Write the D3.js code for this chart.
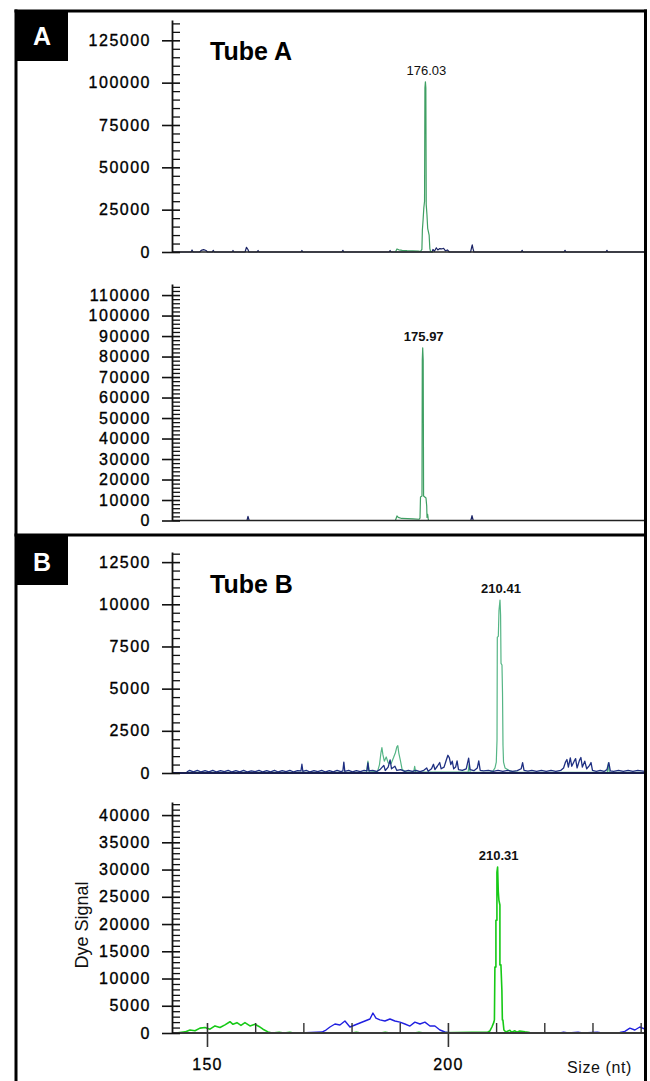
<!DOCTYPE html>
<html>
<head>
<meta charset="utf-8">
<script src="https://cdnjs.cloudflare.com/ajax/libs/d3/7.8.5/d3.min.js"></script>
<style>
  body { margin: 0; background: #fff; }
  text { font-family: "Liberation Sans", Arial, sans-serif; }
</style>
</head>
<body>
<div id="plot"></div>
<script>
const width = 650, height = 1081;
const axisX = 172;

// y tick labels of the four traces
const ticksA1 = [0, 25000, 50000, 75000, 100000, 125000];
const ticksA2 = [0, 10000, 20000, 30000, 40000, 50000, 60000, 70000, 80000, 90000, 100000, 110000];
const ticksB1 = [0, 2500, 5000, 7500, 10000, 12500];
const ticksB2 = [0, 5000, 10000, 15000, 20000, 25000, 30000, 35000, 40000];
// size axis (nt)
const sizeTicks = [150, 200];
const sizeMinor = [160, 170, 180, 190, 210, 220, 230, 240];

// traces: [size (nt), dye signal]
const tubeA1Green = [[169.8,0],[170.13,1800],[170.5,1300],[171.2,1000],[172.2,800],[173.4,700],[174.6,500],[175.0,300],
  [175.3,1500],[175.4,13000],[175.55,19000],[175.7,26000],[175.85,30000],[175.93,97000],[176.03,100500],[176.12,97000],
  [176.2,28000],[176.35,22000],[176.5,14000],[176.8,10000],[176.95,2000],[177.1,300],[177.6,0]];
const tubeA1Blue = [[123.5,0],[127.4,0],[127.6,1200],[127.8,0],[129.2,0],[129.5,1000],[130,1400],[130.5,900],[130.8,0],
  [131.8,0],[132,1000],[132.2,0],[135.9,0],[136.1,900],[136.3,0],[138.6,0],[138.9,2800],[139.2,1500],[139.4,0],
  [141.1,0],[141.3,900],[141.5,0],[150.2,0],[150.4,900],[150.6,0],[158.7,0],[158.9,1000],[159.1,0],[168.5,0],
  [168.7,900],[168.9,0],[177.4,0],[177.6,1500],[177.9,400],[178.3,2500],[178.6,1200],[179.0,2000],[179.4,1800],
  [179.8,2200],[180.2,700],[180.6,1200],[181.0,0],[185.4,0],[185.6,2500],[185.75,4200],[185.9,2000],[186.1,0],
  [195.9,0],[196.1,1000],[196.3,0],[204.8,0],[205,1000],[205.2,0],[213.5,0],[213.7,1000],[213.9,0],[221.6,0]];

const tubeA2Green = [[170.3,0],[170.63,2200],[170.9,1500],[171.6,1000],[172.8,900],[174.0,800],[175.2,600],[175.41,1200],
  [175.51,11470],[175.82,11960],[175.88,78300],[175.97,84200],[176.07,78300],[176.15,11960],[176.65,10980],
  [176.8,7000],[176.86,1500],[176.99,3000],[177.1,1000],[177.17,0]];
const tubeA2Blue = [[123.94,0],[139.5,0],[139.71,2000],[139.95,0],[185.95,0],[186.2,2400],[186.45,0],[222.1,0]];

const tubeB1Green = [[145.4,40],[160,40],[182.7,50],[183.0,700],[183.3,60],[185.0,100],[185.4,500],[185.7,1200],
  [185.9,1500],[186.1,1100],[186.4,700],[186.8,950],[187.2,600],[187.8,550],[188.3,900],[188.7,1200],[189.0,1550],
  [189.2,1620],[189.4,1200],[189.7,800],[190.1,200],[191,60],[192.5,60],[192.7,400],[192.9,60],[203.8,60],
  [204.0,500],[204.2,60],[207.3,40],[208.33,50],[208.96,120],[209.37,300],[209.64,650],[209.79,1950],[209.85,8050],
  [210.06,8100],[210.2,9650],[210.41,10250],[210.53,9350],[210.62,6500],[210.82,6400],[210.93,4740],[211.03,1650],
  [211.14,650],[211.45,300],[212.48,120],[214.14,40],[232.7,40],[232.9,600],[233.1,40],[240.5,40]];
const tubeB1Blue = [[145.4,60],[146,160],[146.8,70],[147.6,150],[148.4,60],[149.2,140],[150,70],[150.8,160],
  [151.6,60],[152.4,140],[153.2,80],[154,150],[154.8,60],[155.6,140],[156.4,70],[157.2,160],[158,60],[158.8,130],
  [159.6,80],[160.4,150],[161.2,60],[162,140],[162.8,70],[163.6,150],[164.4,60],[165.2,140],[166,80],[166.8,150],
  [167.6,60],[168.4,140],[169.1,120],[169.3,520],[169.5,90],[170.2,150],[171,60],[171.8,140],[172.6,80],[173.4,150],
  [174.2,60],[175,140],[175.8,70],[176.6,150],[177.4,80],[177.8,120],[178.0,650],[178.2,100],[179,150],[179.8,70],
  [180.6,140],[181.4,80],[182.2,150],[182.8,120],[183.0,600],[183.2,120],[184,150],[184.8,90],[185.5,200],
  [186.3,450],[186.6,150],[187.2,350],[187.6,780],[187.9,250],[188.6,400],[189,150],[189.8,200],[190.6,100],
  [191.4,160],[192.2,90],[193,150],[193.8,80],[194.6,160],[195.2,300],[195.5,100],[196.2,250],[196.6,520],
  [196.9,200],[197.4,400],[197.9,620],[198.2,250],[198.8,350],[199.3,800],[199.6,1050],[199.9,900],[200.2,500],
  [200.5,700],[200.8,250],[201.2,350],[201.5,720],[201.8,200],[202.6,150],[203.4,250],[203.9,880],[204.2,200],
  [205,140],[205.7,300],[206.0,720],[206.3,160],[207,120],[208,150],[209,100],[210,160],[211,90],[212,150],
  [213,100],[214,140],[214.8,250],[215.1,620],[215.4,150],[216.2,110],[217,150],[218,90],[219,150],[220,100],
  [221,150],[222,90],[223,150],[223.6,300],[224.0,650],[224.3,800],[224.6,350],[225.0,900],[225.3,400],[225.8,700],
  [226.1,850],[226.4,300],[226.9,750],[227.2,920],[227.5,350],[228.0,700],[228.4,250],[229.0,450],[229.3,620],
  [229.6,150],[230.4,100],[231.2,150],[232,90],[232.6,200],[233.0,620],[233.3,130],[234,100],[235,150],[236,90],
  [237,150],[238,100],[239,150],[240.5,100]];

const tubeB2Green = [[142.74,0],[143.98,50],[145.44,200],[146.47,550],[147.51,400],[148.55,900],[149.59,1000],
  [150.62,700],[151.66,1300],[152.7,1000],[153.73,1500],[154.77,2070],[155.39,1600],[156.22,1900],[157.05,1400],
  [157.88,1900],[158.92,1300],[159.96,1600],[160.79,1200],[161.62,700],[162.66,200],[163.49,0],[165,120],[166,0],
  [167.2,120],[168,0],[180,0],[181,120],[182,0],[186,0],[187,130],[188,0],[193,0],[194,120],[195,0],
  [208.3,180],[208.71,370],[209.13,1100],[209.54,2000],[209.65,2400],[209.75,12100],[209.96,12100],[209.96,20700],
  [210.17,20700],[210.17,29500],[210.31,30460],[210.45,26000],[210.58,24400],[210.79,23500],[210.79,12500],
  [211.0,12500],[211.2,7900],[211.3,2400],[211.41,2400],[211.62,550],[212.03,180],[212.86,500],[213.2,150],
  [213.9,400],[214.3,150],[214.9,350],[216,200],[217,100],[220,0],[240.9,0]];
const tubeB2Blue = [[169.29,0],[173.86,180],[174.69,550],[175.52,1100],[176.56,1650],[177.59,1470],[178.63,2200],
  [179.67,1100],[180.71,1470],[181.74,1835],[182.78,2200],[183.82,2570],[184.44,3670],[185.06,2750],[185.89,2400],
  [186.93,2200],[187.97,2570],[189.0,2200],[190.04,2000],[191.08,1650],[192.12,1280],[193.15,2000],[194.19,1650],
  [195.23,2000],[196.27,1280],[197.3,1280],[198.34,550],[199.38,180],[200.41,0],[223.24,0],[224,150],[225,0],
  [227,150],[228,0],[231,150],[232,0],[235.68,120],[236.72,300],[237.76,900],[238.8,550],[239.83,1100],[240.9,700]];

// labelled peaks
const peaks = [
  {trace: "A1", size: 176.03, signal: 100500, text: "176.03", weight: "normal"},
  {trace: "A2", size: 175.97, signal: 84200, text: "175.97", weight: "bold"},
  {trace: "B1", size: 210.41, signal: 10250, text: "210.41", weight: "bold"},
  {trace: "B2", size: 210.31, signal: 30460, text: "210.31", weight: "bold"}
];

var svg = d3.select("#plot")
  .append("svg")
  .attr("width", width)
  .attr("height", height);

// x scales (each electropherogram has its own offset)
const xA1 = d3.scaleLinear().domain([123.44, 221.6]).range([axisX, 645]);
const xA2 = d3.scaleLinear().domain([123.94, 222.1]).range([axisX, 645]);
const xB1 = d3.scaleLinear().domain([142.34, 240.5]).range([axisX, 645]);
const xB2 = d3.scaleLinear().domain([142.74, 240.9]).range([axisX, 645]);

// y scales: domain top = end of axis line
const yA1 = d3.scaleLinear().domain([0, 137000]).range([252, 20]);
const yA2 = d3.scaleLinear().domain([0, 115400]).range([520.5, 284]);
const yB1 = d3.scaleLinear().domain([0, 13100]).range([773, 552]);
const yB2 = d3.scaleLinear().domain([0, 42400]).range([1033, 802]);

function drawYAxis(y, major, minorStep) {
  var g = svg.append("g").attr("transform", "translate(" + axisX + ",0)");
  var minor = d3.range(0, y.domain()[1], minorStep).filter(v => major.indexOf(v) < 0);

  g.append("g")
    .call(d3.axisLeft(y).tickValues(minor).tickSize(-8).tickFormat(""))
    .call(a => a.select(".domain").remove())
    .selectAll(".tick line").attr("stroke", "#111").attr("stroke-width", 1.3);

  var maj = g.append("g")
    .call(d3.axisLeft(y).tickValues(major).tickSizeInner(10).tickSizeOuter(0).tickFormat(d3.format("d")));
  maj.select(".domain").attr("stroke", "#111").attr("stroke-width", 1.8);
  maj.selectAll(".tick line").attr("x1", 8).attr("stroke", "#111").attr("stroke-width", 1.6);
  maj.selectAll(".tick text")
    .attr("x", -21)
    .attr("fill", "#000")
    .attr("stroke", "#000")
    .attr("stroke-width", 0.35)
    .style("font-size", "16px")
    .style("letter-spacing", "1.5px")
    .style("font-family", "'Liberation Sans', Arial, sans-serif");
}

function drawTrace(data, x, y, color, w) {
  svg.append("path")
    .datum(data)
    .attr("fill", "none")
    .attr("stroke", color)
    .attr("stroke-width", w)
    .attr("stroke-linejoin", "round")
    .attr("d", d3.line().x(d => x(d[0])).y(d => y(d[1])));
}

// baseline sits exactly on y(0) (undo the half pixel offset of d3 axes)
function drawBaseline(x, y, color, w) {
  svg.append("g")
    .attr("transform", "translate(0," + (y(0) - 0.5) + ")")
    .call(d3.axisBottom(x).tickValues([]).tickSizeOuter(0))
    .select(".domain").attr("stroke", color).attr("stroke-width", w);
}

// Tube A, upper
drawTrace(tubeA1Blue, xA1, yA1, "#1b2466", 1.2);
drawTrace(tubeA1Green, xA1, yA1, "#3f9f63", 1.2);
drawBaseline(xA1, yA1, "#222", 1.6);
drawYAxis(yA1, ticksA1, 5000);

// Tube A, lower
drawTrace(tubeA2Blue, xA2, yA2, "#1b2466", 1.2);
drawTrace(tubeA2Green, xA2, yA2, "#3f9f63", 1.2);
drawBaseline(xA2, yA2, "#222", 1.6);
drawYAxis(yA2, ticksA2, 2000);

// Tube B, upper
drawTrace(tubeB1Green, xB1, yB1, "#55b585", 1.2);
drawTrace(tubeB1Blue, xB1, yB1, "#1e2f82", 1.3);
drawBaseline(xB1, yB1, "#1a1f50", 1.8);
drawYAxis(yB1, ticksB1, 500);

// Tube B, lower
drawTrace(tubeB2Blue, xB2, yB2, "#2020e0", 1.4);
drawTrace(tubeB2Green, xB2, yB2, "#16c916", 1.6);
drawBaseline(xB2, yB2, "#3a3a3a", 2);
drawYAxis(yB2, ticksB2, 1000);

// size axis
svg.append("g")
  .attr("transform", "translate(0," + yB2(0) + ")")
  .call(d3.axisBottom(xB2).tickValues(sizeMinor).tickSizeInner(-10).tickSizeOuter(0).tickFormat(""))
  .call(a => a.select(".domain").remove())
  .selectAll(".tick line").attr("stroke", "#333").attr("stroke-width", 1.4);

var sx = svg.append("g")
  .attr("transform", "translate(0," + yB2(0) + ")")
  .call(d3.axisBottom(xB2).tickValues(sizeTicks).tickSizeInner(14).tickSizeOuter(0).tickFormat(d3.format("d")));
sx.select(".domain").remove();
sx.selectAll(".tick line").attr("y1", -10).attr("stroke", "#333").attr("stroke-width", 1.6);
sx.selectAll(".tick text")
  .attr("y", 37).attr("dy", 0)
  .attr("fill", "#000")
  .attr("stroke", "#000")
  .attr("stroke-width", 0.3)
  .style("font-size", "16px")
  .style("letter-spacing", "1.2px")
  .style("font-family", "'Liberation Sans', Arial, sans-serif");

svg.append("text")
  .attr("x", 632).attr("y", 1073)
  .attr("text-anchor", "end")
  .style("font-size", "16px")
  .style("letter-spacing", "0.6px")
  .attr("fill", "#111")
  .text("Size (nt)");

svg.append("text")
  .attr("transform", "translate(88,925) rotate(-90)")
  .attr("text-anchor", "middle")
  .style("font-size", "18px")
  .attr("fill", "#111")
  .text("Dye Signal");

// peak size labels
const scales = {A1: [xA1, yA1], A2: [xA2, yA2], B1: [xB1, yB1], B2: [xB2, yB2]};
svg.selectAll(".peak")
  .data(peaks)
  .enter()
  .append("text")
    .attr("class", "peak")
    .attr("x", d => scales[d.trace][0](d.size) + 1)
    .attr("y", d => scales[d.trace][1](d.signal) - 7)
    .attr("text-anchor", "middle")
    .style("font-size", "13px")
    .style("font-weight", d => d.weight)
    .attr("fill", "#111")
    .text(d => d.text);

// tube titles
svg.append("text").attr("x", 210).attr("y", 60)
  .style("font-size", "25px").style("font-weight", "bold").text("Tube A");
svg.append("text").attr("x", 210).attr("y", 593)
  .style("font-size", "25px").style("font-weight", "bold").text("Tube B");

// frame and panel letters
var frame = svg.append("g").attr("stroke", "#000").attr("stroke-width", 3);
frame.append("line").attr("x1", 16).attr("x2", 16).attr("y1", 9.5).attr("y2", height);
frame.append("line").attr("x1", 14.5).attr("x2", 647).attr("y1", 11).attr("y2", 11);
frame.append("line").attr("x1", 645.5).attr("x2", 645.5).attr("y1", 9.5).attr("y2", height);
frame.append("line").attr("x1", 14.5).attr("x2", 647).attr("y1", 535).attr("y2", 535);

svg.append("rect").attr("x", 15).attr("y", 10).attr("width", 53).attr("height", 51).attr("fill", "#000");
svg.append("rect").attr("x", 15).attr("y", 535).attr("width", 53).attr("height", 50).attr("fill", "#000");
svg.append("text").attr("x", 42).attr("y", 45).attr("text-anchor", "middle")
  .style("font-size", "25px").style("font-weight", "bold").attr("fill", "#fff").text("A");
svg.append("text").attr("x", 42).attr("y", 571).attr("text-anchor", "middle")
  .style("font-size", "25px").style("font-weight", "bold").attr("fill", "#fff").text("B");
</script>
</body>
</html>
